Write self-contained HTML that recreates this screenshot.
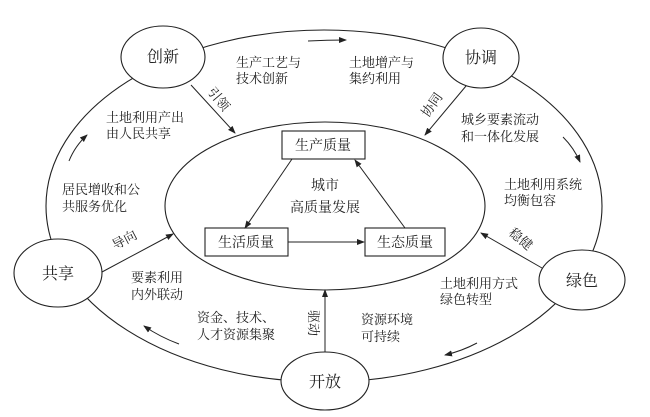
<!DOCTYPE html>
<html><head><meta charset="utf-8"><style>
html,body{margin:0;padding:0;background:#fff}
svg{display:block}
text{font-family:"Liberation Serif","Noto Serif CJK SC",serif;fill:#222}
</style></head><body>
<svg width="650" height="417" viewBox="0 0 650 417" xmlns="http://www.w3.org/2000/svg">
<defs>
<marker id="a" markerWidth="8" markerHeight="8" refX="7" refY="4" orient="auto" markerUnits="userSpaceOnUse">
<path d="M0,1 L8,4 L0,7 Z" fill="#222"/></marker>
</defs>
<g stroke="#222" stroke-width="1.1" fill="none">
<ellipse cx="324" cy="206" rx="278" ry="176"/>
<ellipse cx="325" cy="206" rx="160" ry="84"/>
</g>
<g stroke="#222" stroke-width="1.1" fill="#fff">
<ellipse cx="163" cy="57" rx="42" ry="31"/>
<ellipse cx="481" cy="58" rx="38" ry="30"/>
<ellipse cx="58" cy="273" rx="44" ry="34"/>
<ellipse cx="582" cy="280" rx="43" ry="30"/>
<ellipse cx="325" cy="381" rx="44" ry="29"/>
<rect x="282" y="131" width="83" height="28"/>
<rect x="205" y="228" width="83" height="28"/>
<rect x="365" y="228" width="80" height="28"/>
</g>
<g stroke="#222" stroke-width="1" fill="none" marker-end="url(#a)">
<line x1="191" y1="85" x2="235" y2="133"/>
<line x1="466" y1="86" x2="425" y2="135"/>
<line x1="102" y1="272" x2="173" y2="234"/>
<line x1="542" y1="268" x2="481" y2="233"/>
<line x1="325" y1="352" x2="325" y2="290"/>
<line x1="292" y1="159" x2="245" y2="228"/>
<line x1="405" y1="228" x2="355" y2="160"/>
<line x1="288" y1="242" x2="364" y2="242"/>
<path d="M308,41 Q327,40 346,40"/>
<path d="M69,161 Q75,146 87,135"/>
<path d="M563,137 Q574,148 580,162"/>
<path d="M179,344 Q160,337 144,326"/>
<path d="M477,343 Q462,351 445,355"/>
</g>
<g font-size="13">
<text x="163" y="62" text-anchor="middle" font-size="16">创新</text>
<text x="481" y="63" text-anchor="middle" font-size="16">协调</text>
<text x="58" y="279" text-anchor="middle" font-size="16">共享</text>
<text x="582" y="286" text-anchor="middle" font-size="16">绿色</text>
<text x="325" y="387" text-anchor="middle" font-size="16">开放</text>
<text x="323" y="150" text-anchor="middle" font-size="14">生产质量</text>
<text x="246" y="247" text-anchor="middle" font-size="14">生活质量</text>
<text x="405" y="247" text-anchor="middle" font-size="14">生态质量</text>
<text x="325" y="190" text-anchor="middle" font-size="14">城市</text>
<text x="325" y="212" text-anchor="middle" font-size="14">高质量发展</text>
<text x="236" y="67">生产工艺与</text><text x="236" y="83">技术创新</text>
<text x="349" y="67">土地增产与</text><text x="349" y="83">集约利用</text>
<text x="106" y="122">土地利用产出</text><text x="106" y="138">由人民共享</text>
<text x="461" y="124">城乡要素流动</text><text x="461" y="141">和一体化发展</text>
<text x="62" y="194">居民增收和公</text><text x="62" y="211">共服务优化</text>
<text x="504" y="189">土地利用系统</text><text x="504" y="205">均衡包容</text>
<text x="131" y="282">要素利用</text><text x="131" y="299">内外联动</text>
<text x="440" y="288">土地利用方式</text><text x="440" y="304">绿色转型</text>
<text x="197" y="322">资金、技术、</text><text x="197" y="339">人才资源集聚</text>
<text x="361" y="324">资源环境</text><text x="361" y="341">可持续</text>
<text transform="translate(207,92) rotate(50)">引领</text>
<text transform="translate(428,118) rotate(-55)">协同</text>
<text transform="translate(115,250) rotate(-28)">导向</text>
<text transform="translate(508,234) rotate(40)">稳健</text>
<text transform="translate(309,310) rotate(90)">驱动</text>
</g>
</svg>
</body></html>
